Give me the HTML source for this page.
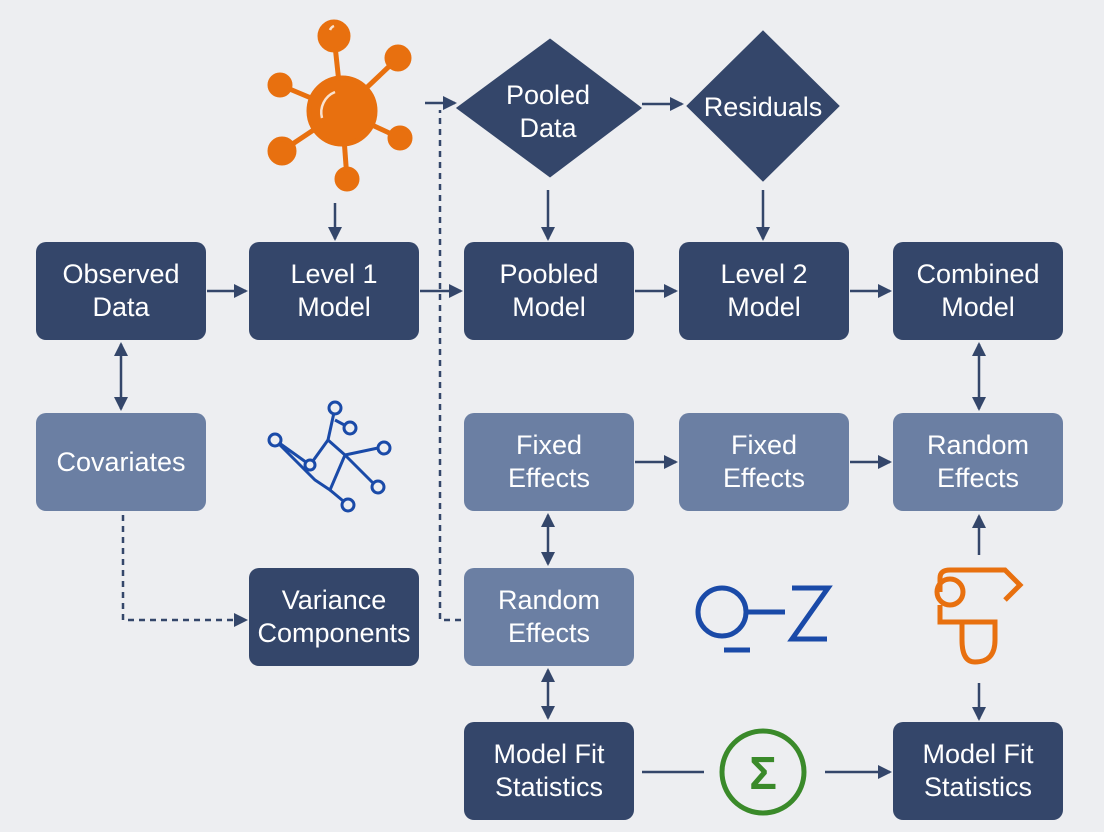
<!DOCTYPE html>
<html><head><meta charset="utf-8"><style>
body{margin:0;width:1104px;height:832px;background:#edeef1;font-family:"Liberation Sans",sans-serif;overflow:hidden}
.b{position:absolute;width:170px;height:98px;border-radius:10px;color:#fff;display:flex;align-items:center;justify-content:center;text-align:center;font-size:27px;line-height:33px}
.d{background:#34466a}.l{background:#6b7fa3}
svg{position:absolute;left:0;top:0}
</style></head><body>
<svg width="1104" height="832">
<defs><marker id="a" markerWidth="14" markerHeight="14" refX="12" refY="7" orient="auto" markerUnits="userSpaceOnUse"><path d="M0,0L14,7L0,14z" fill="#34466a"/></marker>
<marker id="s" markerWidth="14" markerHeight="14" refX="2" refY="7" orient="auto" markerUnits="userSpaceOnUse"><path d="M14,0L0,7L14,14z" fill="#34466a"/></marker></defs>
<g stroke="#34466a" stroke-width="2.5" fill="none">
<path d="M550,40L640,108L550,176L458,108Z" fill="#34466a"/>
<path d="M763,32L838,106L763,180L688,106Z" fill="#34466a"/>
<line x1="207" y1="291" x2="246" y2="291" marker-end="url(#a)"/>
<line x1="420" y1="291" x2="461" y2="291" marker-end="url(#a)"/>
<line x1="635" y1="291" x2="676" y2="291" marker-end="url(#a)"/>
<line x1="850" y1="291" x2="890" y2="291" marker-end="url(#a)"/>
<line x1="335" y1="203" x2="335" y2="239" marker-end="url(#a)"/>
<line x1="548" y1="190" x2="548" y2="239" marker-end="url(#a)"/>
<line x1="763" y1="190" x2="763" y2="239" marker-end="url(#a)"/>
<line x1="425" y1="103" x2="455" y2="103" marker-end="url(#a)"/>
<line x1="642" y1="104" x2="682" y2="104" marker-end="url(#a)"/>
<line x1="121" y1="344" x2="121" y2="409" marker-start="url(#s)" marker-end="url(#a)"/>
<line x1="979" y1="344" x2="979" y2="409" marker-start="url(#s)" marker-end="url(#a)"/>
<line x1="635" y1="462" x2="676" y2="462" marker-end="url(#a)"/>
<line x1="850" y1="462" x2="890" y2="462" marker-end="url(#a)"/>
<line x1="548" y1="515" x2="548" y2="564" marker-start="url(#s)" marker-end="url(#a)"/>
<line x1="548" y1="670" x2="548" y2="718" marker-start="url(#s)" marker-end="url(#a)"/>
<line x1="979" y1="555" x2="979" y2="516" marker-end="url(#a)"/>
<line x1="979" y1="683" x2="979" y2="719" marker-end="url(#a)"/>
<line x1="642" y1="772" x2="704" y2="772"/>
<line x1="825" y1="772" x2="890" y2="772" marker-end="url(#a)"/>
<path d="M123,515V620H246" stroke-dasharray="6,5" marker-end="url(#a)"/>
<path d="M461,620H440V110" stroke-dasharray="6,5"/>
</g>
<g stroke="#e8700f" stroke-width="5" fill="#e8700f">
<line x1="342" y1="111" x2="334" y2="36"/><line x1="342" y1="111" x2="398" y2="58"/><line x1="342" y1="111" x2="280" y2="85"/><line x1="342" y1="111" x2="400" y2="138"/><line x1="342" y1="111" x2="282" y2="151"/><line x1="342" y1="111" x2="347" y2="179"/>
<circle cx="342" cy="111" r="33"/><circle cx="334" cy="36" r="14"/><circle cx="398" cy="58" r="11"/><circle cx="280" cy="85" r="10"/><circle cx="400" cy="138" r="10"/><circle cx="282" cy="151" r="12"/><circle cx="347" cy="179" r="10"/>
</g>
<g stroke="#fff" stroke-width="2.5" fill="none" opacity="0.8"><path d="M322,118A22,22 0 0 1 335,92"/><path d="M330,30A7,7 0 0 1 334,26"/></g>
<g stroke="#1a4aa8" stroke-width="3" fill="none">
<path d="M275,440L310,465L328,440L345,455L330,490L315,480Z"/><line x1="328" y1="440" x2="335" y2="408"/><line x1="345" y1="455" x2="378" y2="448"/><line x1="330" y1="490" x2="348" y2="505"/><line x1="345" y1="455" x2="375" y2="485"/><line x1="335" y1="420" x2="350" y2="428"/>
<circle cx="275" cy="440" r="6" fill="#edeef1"/><circle cx="335" cy="408" r="6" fill="#edeef1"/><circle cx="350" cy="428" r="6" fill="#edeef1"/><circle cx="384" cy="448" r="6" fill="#edeef1"/><circle cx="378" cy="487" r="6" fill="#edeef1"/><circle cx="348" cy="505" r="6" fill="#edeef1"/><circle cx="310" cy="465" r="5" fill="#edeef1"/>
</g>
<g stroke="#1a4aa8" stroke-width="5" fill="none"><circle cx="722" cy="612" r="24"/><line x1="746" y1="612" x2="785" y2="612"/><line x1="724" y1="650" x2="750" y2="650"/><path d="M792,588H828L792,639H827"/></g>
<g stroke="#e8700f" stroke-width="5" fill="none"><circle cx="950" cy="592" r="13"/><path d="M940,592V578Q940,570 950,570H1005L1020,585L1005,600"/><path d="M940,605V622H995V640Q995,662 975,662Q962,662 962,640V622"/></g>
<circle cx="763" cy="772" r="41" stroke="#3a8a2a" stroke-width="5" fill="none"/>
<text x="763" y="789" text-anchor="middle" font-size="46" font-weight="bold" fill="#3a8a2a" font-family="Liberation Sans,sans-serif">Σ</text>
<text x="548" y="104" text-anchor="middle" font-size="27" fill="#fff" font-family="Liberation Sans,sans-serif">Pooled</text>
<text x="548" y="137" text-anchor="middle" font-size="27" fill="#fff" font-family="Liberation Sans,sans-serif">Data</text>
<text x="763" y="116" text-anchor="middle" font-size="27" fill="#fff" font-family="Liberation Sans,sans-serif">Residuals</text>
</svg>
<div class="b d" style="left:36px;top:242px">Observed<br>Data</div>
<div class="b d" style="left:249px;top:242px">Level 1<br>Model</div>
<div class="b d" style="left:464px;top:242px">Poobled<br>Model</div>
<div class="b d" style="left:679px;top:242px">Level 2<br>Model</div>
<div class="b d" style="left:893px;top:242px">Combined<br>Model</div>
<div class="b l" style="left:36px;top:413px">Covariates</div>
<div class="b l" style="left:464px;top:413px">Fixed<br>Effects</div>
<div class="b l" style="left:679px;top:413px">Fixed<br>Effects</div>
<div class="b l" style="left:893px;top:413px">Random<br>Effects</div>
<div class="b d" style="left:249px;top:568px">Variance<br>Components</div>
<div class="b l" style="left:464px;top:568px">Random<br>Effects</div>
<div class="b d" style="left:464px;top:722px">Model Fit<br>Statistics</div>
<div class="b d" style="left:893px;top:722px">Model Fit<br>Statistics</div>
</body></html>
